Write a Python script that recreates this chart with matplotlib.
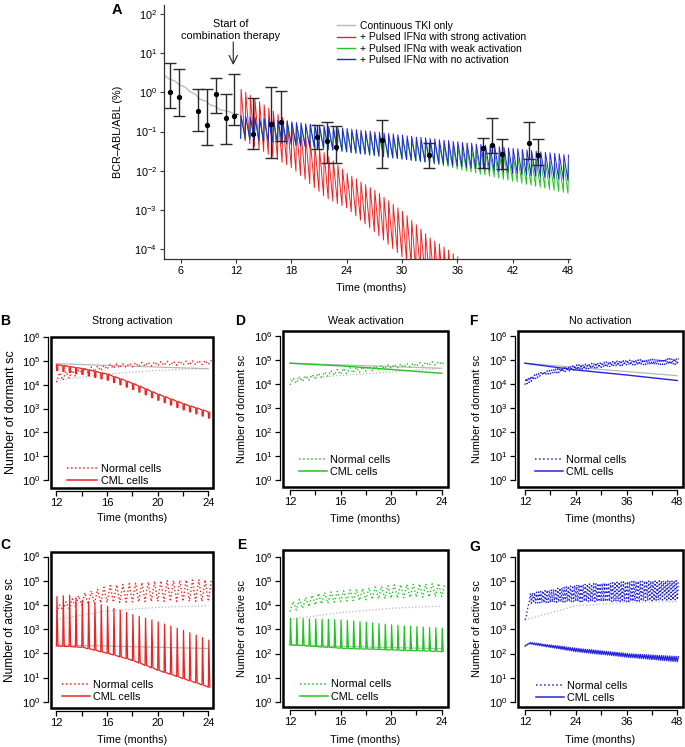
import numpy as np
import matplotlib
matplotlib.use('Agg')
import matplotlib.pyplot as plt
from matplotlib.patches import Rectangle
from matplotlib.lines import Line2D
from matplotlib.ticker import NullLocator

plt.rcParams['font.family'] = ['Liberation Sans', 'DejaVu Sans']
plt.rcParams['mathtext.fontset'] = 'custom'
plt.rcParams['mathtext.rm'] = 'Liberation Sans'
plt.rcParams['mathtext.it'] = 'Liberation Sans:italic'
plt.rcParams['mathtext.bf'] = 'Liberation Sans:bold'

RED = '#ee2222'; GREEN = '#22c422'; BLUE = '#2424dd'; GRAY = '#b8b8b8'; DARK = '#222222'

# ======================= Panel A data (log10 of %) =======================
tki_t = [4.2, 4.8, 5.3, 5.9, 6.5, 7.0, 7.6, 8.1, 8.7, 9.2, 9.8, 10.3, 10.8, 11.35, 12.0]
tki_log = [0.44, 0.33, 0.30, 0.19, 0.13, 0.02, -0.05, -0.18, -0.22, -0.32, -0.36, -0.45, -0.47, -0.50, -0.58]
pre_t = [12.0, 12.5]
pre_log = [-0.55, -0.60]

pt_month = [4.84, 5.85, 7.9, 8.8, 9.8, 10.9, 11.8, 13.8, 15.8, 16.85, 20.8, 21.85, 22.85, 27.8, 32.9,
            38.8, 39.8, 40.8, 43.8, 44.8]
pt_val = [1.00, 0.78, 0.34, 0.15, 0.91, 0.22, 0.25, 0.087, 0.16, 0.18, 0.074, 0.058, 0.041, 0.060, 0.025,
          0.039, 0.046, 0.026, 0.052, 0.025]
pt_hi = [5.5, 3.9, 1.2, 1.2, 2.3, 0.93, 2.9, 0.71, 1.4, 1.1, 0.15, 0.18, 0.14, 0.20, 0.052,
         0.069, 0.22, 0.063, 0.18, 0.065]
pt_lo = [0.39, 0.25, 0.105, 0.046, 0.30, 0.048, 0.15, 0.035, 0.021, 0.056, 0.036, 0.0155, 0.016, 0.0115, 0.0115,
         0.012, 0.028, 0.011, 0.0195, 0.014]

# per-pulse peaks / troughs (one value per IFN pulse, every half month from 12.5)
A_red_pk = [0.08, 0.00, -0.08, -0.16, -0.24, -0.32, -0.40, -0.48, -0.56, -0.64, -0.72, -0.80,
            -0.89, -1.00, -1.11, -1.22, -1.32, -1.43, -1.54, -1.64, -1.75, -1.86, -1.96, -2.07,
            -2.14, -2.21, -2.29, -2.36, -2.43, -2.50, -2.58, -2.68, -2.77, -2.86, -2.95, -3.04,
            -3.15, -3.27, -3.38, -3.49, -3.61, -3.72, -3.80, -3.87, -3.95, -4.03, -4.12, -4.20]
A_red_tr = [-1.17, -1.24, -1.31, -1.38, -1.44, -1.51, -1.58, -1.65, -1.72, -1.79, -1.85, -1.92,
            -2.01, -2.12, -2.22, -2.33, -2.43, -2.53, -2.64, -2.72, -2.78, -2.84, -2.89, -2.95,
            -3.05, -3.15, -3.26, -3.36, -3.46, -3.56, -3.66, -3.77, -3.88, -3.99, -4.09, -4.20,
            -4.30, -4.40, -4.50, -4.60, -4.70, -4.80, -4.90, -5.00, -5.10, -5.20, -5.30, -5.40]
A_blue_pk = [-0.60, -0.61, -0.63, -0.64, -0.66, -0.67, -0.68, -0.70, -0.71, -0.73, -0.74, -0.75,
             -0.77, -0.78, -0.80, -0.81, -0.83, -0.84, -0.85, -0.87, -0.88, -0.90, -0.91, -0.92,
             -0.94, -0.95, -0.97, -0.98, -0.99, -1.01, -1.02, -1.04, -1.05, -1.06, -1.08, -1.09,
             -1.11, -1.12, -1.14, -1.15, -1.16, -1.18, -1.19, -1.21, -1.22, -1.23, -1.25, -1.26,
             -1.28, -1.29, -1.30, -1.32, -1.33, -1.35, -1.36, -1.37, -1.39, -1.40, -1.42, -1.43,
             -1.44, -1.46, -1.47, -1.49, -1.50, -1.52, -1.53, -1.54, -1.56, -1.57, -1.59, -1.60]
A_blue_tr = [-1.17, -1.19, -1.20, -1.22, -1.23, -1.25, -1.26, -1.28, -1.29, -1.31, -1.32, -1.34,
             -1.35, -1.37, -1.38, -1.40, -1.41, -1.43, -1.44, -1.46, -1.47, -1.49, -1.50, -1.52,
             -1.54, -1.55, -1.57, -1.58, -1.60, -1.61, -1.63, -1.64, -1.66, -1.67, -1.69, -1.70,
             -1.72, -1.73, -1.75, -1.76, -1.78, -1.79, -1.81, -1.82, -1.84, -1.85, -1.87, -1.88,
             -1.90, -1.92, -1.93, -1.95, -1.96, -1.98, -1.99, -2.01, -2.02, -2.04, -2.05, -2.07,
             -2.08, -2.10, -2.11, -2.13, -2.14, -2.16, -2.17, -2.19, -2.20, -2.22, -2.23, -2.25]
A_green_pk = [-0.62, -0.64, -0.65, -0.67, -0.69, -0.70, -0.72, -0.74, -0.75, -0.77, -0.79, -0.80,
              -0.82, -0.84, -0.85, -0.87, -0.89, -0.90, -0.92, -0.94, -0.95, -0.97, -0.98, -1.00,
              -1.02, -1.03, -1.05, -1.07, -1.08, -1.10, -1.12, -1.13, -1.15, -1.17, -1.18, -1.20,
              -1.22, -1.23, -1.25, -1.27, -1.28, -1.30, -1.32, -1.34, -1.35, -1.37, -1.39, -1.41,
              -1.43, -1.45, -1.47, -1.48, -1.50, -1.52, -1.54, -1.56, -1.58, -1.59, -1.61, -1.63,
              -1.65, -1.67, -1.69, -1.70, -1.72, -1.74, -1.76, -1.78, -1.80, -1.81, -1.83, -1.85]
A_green_tr = [-1.17, -1.19, -1.20, -1.22, -1.23, -1.25, -1.26, -1.28, -1.29, -1.31, -1.32, -1.34,
              -1.35, -1.37, -1.39, -1.40, -1.42, -1.43, -1.45, -1.46, -1.48, -1.49, -1.51, -1.52,
              -1.54, -1.55, -1.57, -1.58, -1.60, -1.62, -1.63, -1.65, -1.66, -1.68, -1.69, -1.71,
              -1.72, -1.74, -1.75, -1.77, -1.78, -1.80, -1.83, -1.85, -1.88, -1.90, -1.93, -1.96,
              -1.98, -2.01, -2.03, -2.06, -2.09, -2.11, -2.14, -2.16, -2.19, -2.22, -2.24, -2.27,
              -2.29, -2.32, -2.35, -2.37, -2.40, -2.42, -2.45, -2.48, -2.50, -2.53, -2.55, -2.58]

# ======================= Panels B-G data (log10 of cell numbers) =======================
# steady TKI-only references (gray)
B_gs_t = [12, 24]; B_gs = [4.88, 4.67]
B_gd_t = [12, 16, 20, 24]; B_gd = [4.18, 4.45, 4.60, 4.68]
C_gs_t = [12, 24]; C_gs = [2.35, 2.20]
C_gd_t = [12, 16, 20, 24]; C_gd = [3.40, 3.75, 3.90, 3.97]
D_gs_t = [12, 24]; D_gs = [4.86, 4.65]
D_gd_t = [12, 24]; D_gd = [4.20, 4.65]
E_gs_t = [12, 24]; E_gs = [2.35, 2.20]
E_gd_t = [12, 16, 20, 24]; E_gd = [3.42, 3.70, 3.88, 3.97]
F_gs_t = [12, 48]; F_gs = [4.86, 4.34]
G_gd_t = [12, 24, 36, 48]; G_gd = [3.40, 3.98, 4.12, 4.16]
D_cml_t = [12, 16, 20, 24]; D_cml = [4.86, 4.75, 4.60, 4.44]
F_cml_t = [12, 24, 36, 48]; F_cml = [4.86, 4.58, 4.37, 4.14]

# per-pulse values (every half month from month 12)
B_cml_top = [4.84, 4.80, 4.76, 4.72, 4.68, 4.62, 4.56, 4.50, 4.44, 4.34, 4.25, 4.15, 4.05,
             3.94, 3.83, 3.71, 3.60, 3.50, 3.40, 3.30, 3.20, 3.11, 3.03, 2.94, 2.85]
B_cml_bot = [4.59, 4.55, 4.51, 4.47, 4.43, 4.37, 4.31, 4.25, 4.19, 4.09, 4.00, 3.90, 3.80,
             3.69, 3.58, 3.46, 3.35, 3.25, 3.15, 3.05, 2.95, 2.86, 2.78, 2.69, 2.60]
B_nor_hi = [4.50, 4.55, 4.60, 4.65, 4.70, 4.74, 4.78, 4.81, 4.85, 4.87, 4.88, 4.90, 4.92,
            4.93, 4.94, 4.96, 4.97, 4.98, 4.98, 4.99, 4.99, 5.00, 5.01, 5.01, 5.02]
B_nor_lo = [4.10, 4.19, 4.28, 4.36, 4.45, 4.50, 4.55, 4.60, 4.65, 4.68, 4.70, 4.73, 4.75,
            4.76, 4.78, 4.79, 4.80, 4.81, 4.81, 4.82, 4.83, 4.83, 4.84, 4.84, 4.85]
C_cml_pk = [4.35, 4.38, 4.40, 4.30, 4.20, 4.14, 4.08, 4.01, 3.95, 3.86, 3.78, 3.69, 3.60,
            3.53, 3.45, 3.38, 3.30, 3.21, 3.13, 3.04, 2.95, 2.85, 2.75, 2.65, 2.55]
C_cml_tr = [2.30, 2.29, 2.28, 2.26, 2.25, 2.19, 2.13, 2.06, 2.00, 1.93, 1.85, 1.78, 1.70,
            1.60, 1.50, 1.40, 1.30, 1.21, 1.13, 1.04, 0.95, 0.86, 0.78, 0.69, 0.60]
C_nor_hi = [4.00, 4.13, 4.25, 4.38, 4.50, 4.58, 4.65, 4.73, 4.80, 4.83, 4.85, 4.88, 4.90,
            4.93, 4.95, 4.98, 5.00, 5.01, 5.01, 5.02, 5.03, 5.03, 5.04, 5.04, 5.05]
C_nor_lo = [3.70, 3.78, 3.85, 3.93, 4.00, 4.03, 4.05, 4.08, 4.10, 4.11, 4.11, 4.12, 4.13,
            4.13, 4.14, 4.14, 4.15, 4.15, 4.15, 4.15, 4.15, 4.15, 4.15, 4.15, 4.15]
D_nor_hi = [4.23, 4.28, 4.34, 4.39, 4.44, 4.49, 4.55, 4.60, 4.65, 4.67, 4.69, 4.71, 4.73,
            4.75, 4.77, 4.79, 4.81, 4.83, 4.85, 4.86, 4.88, 4.90, 4.92, 4.93, 4.95]
D_nor_lo = [3.96, 4.03, 4.10, 4.16, 4.23, 4.27, 4.32, 4.36, 4.40, 4.43, 4.46, 4.49, 4.53,
            4.56, 4.59, 4.62, 4.65, 4.67, 4.69, 4.71, 4.73, 4.75, 4.77, 4.79, 4.81]
E_cml_pk = [3.47, 3.46, 3.45, 3.44, 3.44, 3.43, 3.42, 3.41, 3.40, 3.37, 3.35, 3.32, 3.30,
            3.27, 3.24, 3.22, 3.19, 3.17, 3.15, 3.14, 3.12, 3.10, 3.08, 3.07, 3.05]
E_cml_tr = [2.36, 2.34, 2.33, 2.31, 2.29, 2.27, 2.26, 2.24, 2.22, 2.21, 2.20, 2.19, 2.19,
            2.18, 2.17, 2.16, 2.15, 2.14, 2.13, 2.12, 2.12, 2.11, 2.10, 2.09, 2.08]
E_nor_hi = [4.16, 4.25, 4.33, 4.42, 4.50, 4.53, 4.56, 4.58, 4.61, 4.64, 4.67, 4.70, 4.73,
            4.76, 4.79, 4.82, 4.85, 4.86, 4.87, 4.88, 4.89, 4.89, 4.90, 4.91, 4.92]
E_nor_lo = [3.74, 3.81, 3.88, 3.95, 4.02, 4.06, 4.09, 4.13, 4.16, 4.18, 4.20, 4.21, 4.23,
            4.25, 4.27, 4.28, 4.30, 4.31, 4.32, 4.33, 4.34, 4.34, 4.35, 4.36, 4.37]
F_nor_hi = [4.23, 4.26, 4.30, 4.33, 4.37, 4.40, 4.43, 4.47, 4.50, 4.52, 4.54, 4.55, 4.57,
            4.59, 4.61, 4.63, 4.65, 4.66, 4.68, 4.70, 4.72, 4.74, 4.75, 4.77, 4.79,
            4.80, 4.81, 4.81, 4.82, 4.83, 4.84, 4.85, 4.86, 4.87, 4.87, 4.88, 4.89,
            4.90, 4.91, 4.92, 4.92, 4.93, 4.94, 4.95, 4.96, 4.97, 4.97, 4.98, 4.99,
            4.99, 4.99, 5.00, 5.00, 5.00, 5.01, 5.01, 5.01, 5.02, 5.02, 5.02, 5.03,
            5.03, 5.03, 5.04, 5.04, 5.04, 5.05, 5.05, 5.05, 5.05, 5.06, 5.06, 5.06]
F_nor_lo = [3.96, 4.01, 4.06, 4.11, 4.16, 4.22, 4.27, 4.32, 4.37, 4.38, 4.40, 4.41, 4.42,
            4.44, 4.45, 4.46, 4.47, 4.49, 4.50, 4.51, 4.53, 4.54, 4.55, 4.57, 4.58,
            4.59, 4.60, 4.61, 4.62, 4.62, 4.63, 4.64, 4.65, 4.66, 4.67, 4.68, 4.69,
            4.69, 4.70, 4.71, 4.72, 4.73, 4.74, 4.75, 4.76, 4.76, 4.77, 4.78, 4.79,
            4.79, 4.79, 4.79, 4.79, 4.79, 4.80, 4.80, 4.80, 4.80, 4.80, 4.80, 4.80,
            4.80, 4.80, 4.80, 4.81, 4.81, 4.81, 4.81, 4.81, 4.81, 4.81, 4.81, 4.81]
G_nor_hi = [3.50, 4.00, 4.50, 4.52, 4.53, 4.55, 4.56, 4.58, 4.60, 4.61, 4.63, 4.64, 4.66,
            4.67, 4.69, 4.71, 4.72, 4.74, 4.75, 4.77, 4.79, 4.80, 4.82, 4.83, 4.85,
            4.86, 4.86, 4.87, 4.87, 4.88, 4.89, 4.89, 4.90, 4.90, 4.91, 4.91, 4.92,
            4.93, 4.93, 4.94, 4.94, 4.95, 4.96, 4.96, 4.97, 4.97, 4.98, 4.98, 4.99,
            4.99, 4.99, 5.00, 5.00, 5.00, 5.00, 5.00, 5.01, 5.01, 5.01, 5.01, 5.01,
            5.01, 5.02, 5.02, 5.02, 5.02, 5.02, 5.02, 5.03, 5.03, 5.03, 5.03, 5.03]
G_nor_lo = [3.40, 3.75, 4.09, 4.09, 4.10, 4.10, 4.10, 4.11, 4.11, 4.11, 4.12, 4.12, 4.12,
            4.13, 4.13, 4.13, 4.14, 4.14, 4.14, 4.15, 4.15, 4.15, 4.15, 4.16, 4.16,
            4.16, 4.16, 4.16, 4.16, 4.16, 4.16, 4.16, 4.16, 4.16, 4.16, 4.16, 4.16,
            4.16, 4.16, 4.16, 4.16, 4.16, 4.16, 4.16, 4.16, 4.16, 4.16, 4.16, 4.16,
            4.16, 4.17, 4.17, 4.17, 4.18, 4.18, 4.18, 4.19, 4.19, 4.19, 4.20, 4.20,
            4.20, 4.21, 4.21, 4.21, 4.22, 4.22, 4.22, 4.22, 4.23, 4.23, 4.23, 4.23]
G_cml_hi = [2.36, 2.41, 2.46, 2.45, 2.44, 2.43, 2.42, 2.41, 2.39, 2.38, 2.37, 2.36, 2.35,
            2.34, 2.33, 2.32, 2.31, 2.30, 2.29, 2.27, 2.26, 2.25, 2.24, 2.23, 2.22,
            2.21, 2.20, 2.19, 2.18, 2.17, 2.17, 2.16, 2.15, 2.14, 2.13, 2.12, 2.11,
            2.10, 2.09, 2.08, 2.07, 2.06, 2.06, 2.05, 2.04, 2.03, 2.02, 2.01, 2.00,
            1.99, 1.99, 1.98, 1.98, 1.97, 1.97, 1.96, 1.96, 1.95, 1.95, 1.94, 1.94,
            1.93, 1.93, 1.92, 1.92, 1.91, 1.91, 1.90, 1.90, 1.89, 1.89, 1.88, 1.87]
G_cml_lo = [2.30, 2.35, 2.40, 2.39, 2.37, 2.36, 2.34, 2.33, 2.31, 2.30, 2.28, 2.27, 2.25,
            2.24, 2.23, 2.21, 2.20, 2.18, 2.17, 2.15, 2.14, 2.12, 2.11, 2.09, 2.08,
            2.07, 2.06, 2.05, 2.04, 2.03, 2.02, 2.01, 2.00, 1.99, 1.98, 1.97, 1.96,
            1.96, 1.95, 1.94, 1.93, 1.92, 1.91, 1.90, 1.89, 1.88, 1.87, 1.86, 1.85,
            1.84, 1.83, 1.83, 1.82, 1.81, 1.80, 1.79, 1.79, 1.78, 1.77, 1.76, 1.75,
            1.75, 1.74, 1.73, 1.72, 1.71, 1.71, 1.70, 1.69, 1.68, 1.67, 1.67, 1.66]

PERIOD = 0.5          # months between IFN pulses
A_START = 12.5        # first pulse in panel A
SC_START = 12.0       # first pulse in panels B-G
arrow_month = 11.7

W, H = 685, 747
fig = plt.figure(figsize=(W / 100, H / 100), dpi=100)


def rect(l, t, r, b):
    return [l / W, 1 - b / H, (r - l) / W, (b - t) / H]


def wave(t0, hi, lo, shape):
    xs, ys = [], []
    for k in range(min(len(hi), len(lo))):
        t = t0 + k * PERIOD
        for ph, w in shape:
            xs.append(t + ph * PERIOD)
            ys.append(10 ** (hi[k] if w == 'h' else lo[k]))
    return xs, ys


SAW = [(0, 'l'), (0.1, 'h')]
SPIKE = [(0, 'l'), (0.08, 'h'), (0.24, 'l')]
TRI = [(0, 'l'), (0.5, 'h')]
COMB = [(0, 'h'), (0.03, 'l'), (0.2, 'l'), (0.23, 'h')]


def pw(v):
    return r'$\mathregular{10^{%d}}$' % v


# ================= Panel A =================
axA = fig.add_axes(rect(164, 5, 570, 259))
axA.set_yscale('log')
axA.set_xlim(4.19, 48.22)
axA.set_ylim(10 ** -4.255, 10 ** 2.23)
for s in ['top', 'right']:
    axA.spines[s].set_visible(False)
for s in ['left', 'bottom']:
    axA.spines[s].set_linewidth(0.9)
    axA.spines[s].set_color('#333333')
axA.set_yticks([10.0 ** e for e in range(-4, 3)])
axA.set_yticklabels([pw(e) for e in range(-4, 3)])
axA.yaxis.set_minor_locator(NullLocator())
axA.set_xticks(list(range(6, 49, 6)))
axA.tick_params(direction='out', length=3, width=0.8, labelsize=7.8, pad=2, color='#333333')

axA.plot(tki_t, 10 ** np.array(tki_log), color=GRAY, lw=0.9)
x, y = wave(A_START, A_red_pk, A_red_tr, SAW)
axA.plot(x, y, color=RED, lw=0.7)
x, y = wave(A_START, A_green_pk, A_green_tr, SAW)
axA.plot(x, y, color=GREEN, lw=0.7)
x, y = wave(A_START, A_blue_pk, A_blue_tr, SAW)
axA.plot(x, y, color=BLUE, lw=0.7)
axA.plot(pre_t, 10 ** np.array(pre_log), color=BLUE, lw=0.8, ls=(0, (2.5, 1.5)))

pv = np.array(pt_val)
axA.errorbar(pt_month, pv, yerr=[pv - np.array(pt_lo), np.array(pt_hi) - pv], fmt='o', ms=2.8,
             color='black', ecolor='#2a2a2a', elinewidth=1.0, capsize=4.3, capthick=1.0, zorder=6)

axA.set_xlabel('Time (months)', fontsize=7.8)
axA.xaxis.label.set_va('center')
axA.xaxis.set_label_coords(0.51, (259 - 288) / 254)
axA.set_ylabel('BCR\u2013ABL/ABL (%)', fontsize=7.8)
axA.yaxis.label.set_va('center')
axA.yaxis.set_label_coords((118 - 164) / 406, 0.5)

handles = [Line2D([], [], color=c, lw=1.0) for c in [GRAY, RED, GREEN, BLUE]]
labels = ['Continuous TKI only', '+ Pulsed IFN\u03b1 with strong activation',
          '+ Pulsed IFN\u03b1 with weak activation', '+ Pulsed IFN\u03b1 with no activation']
axA.legend(handles, labels, loc='upper left', bbox_to_anchor=((336.7 - 164) / 406, (259 - 21) / 254),
           frameon=False, fontsize=7.5, handlelength=1.75, handletextpad=0.45, labelspacing=0.12,
           borderpad=0, borderaxespad=0)

fig.text(231 / W, 1 - 30 / H, 'Start of\ncombination therapy', ha='center', va='center', fontsize=7.8,
         linespacing=1.2)
axA.annotate('', xy=(arrow_month, (259 - 65) / 254), xycoords=('data', 'axes fraction'),
             xytext=(arrow_month, (259 - 42) / 254), textcoords=('data', 'axes fraction'),
             arrowprops=dict(arrowstyle='->,head_length=0.6,head_width=0.3', lw=0.8, color=DARK,
                             shrinkA=0, shrinkB=0))
fig.text(117 / W, 1 - 10 / H, 'A', fontsize=10.5, fontweight='bold', ha='center', va='center')


# ================= small panels =================
def small(l, t, r, b, xlim, ylog, xt, xlab, ylabel, fs_y, ylab_x, xlab_y):
    ax = fig.add_axes(rect(l, t, r, b))
    ax.set_yscale('log')
    ax.set_xlim(*xlim)
    ax.set_ylim(10 ** ylog[0], 10 ** ylog[1])
    for s in ['top', 'right']:
        ax.spines[s].set_visible(False)
    for s in ['left', 'bottom']:
        ax.spines[s].set_position(('outward', 2.5))
        ax.spines[s].set_linewidth(0.9)
    ax.spines['left'].set_bounds(1, 1e6)
    ax.spines['bottom'].set_bounds(xt[0], xt[-1])
    ax.add_patch(Rectangle((0, 0), 1, 1, transform=ax.transAxes, fill=False, lw=1.8, ec='black',
                           clip_on=False, zorder=10))
    ax.set_yticks([10.0 ** e for e in range(0, 7)])
    ax.set_yticklabels([pw(e) for e in range(0, 7)])
    ax.yaxis.set_minor_locator(NullLocator())
    ax.set_xticks(xt)
    ax.set_xticklabels([str(v) if v in xlab else '' for v in xt])
    ax.tick_params(direction='out', length=3.5, width=0.9, labelsize=8, pad=1.5)
    ax.set_xlabel('Time (months)', fontsize=7.8)
    ax.xaxis.label.set_va('center')
    ax.xaxis.set_label_coords(0.5, -(xlab_y - b) / (b - t))
    ax.set_ylabel(ylabel, fontsize=fs_y)
    ax.yaxis.label.set_va('center')
    ax.yaxis.set_label_coords((ylab_x - l) / (r - l), 0.5)
    return ax


def leg(ax, color, x0, y0, hl):
    hs = [Line2D([], [], color=color, lw=1.1, ls=':'), Line2D([], [], color=color, lw=1.1)]
    ax.legend(hs, ['Normal cells', 'CML cells'], loc='lower left', bbox_to_anchor=(x0, y0), frameon=False,
              fontsize=7.8, handlelength=hl, handletextpad=0.3, labelspacing=0.2, borderpad=0,
              borderaxespad=0)


def line(ax, t, v, color, ls='-', lw=0.9):
    ax.plot(t, 10 ** np.array(v), color=color, ls=ls, lw=lw)


xt24 = [12, 14, 16, 18, 20, 22, 24]
xt48 = [12, 18, 24, 30, 36, 42, 48]

# B
axB = small(51, 337, 213, 488, (11.57, 24.37), (-0.33, 6.0), xt24, [12, 16, 20, 24],
            'Number of dormant sc', 9, 11, 518)
line(axB, B_gs_t, B_gs, GRAY); line(axB, B_gd_t, B_gd, GRAY, ':')
x, y = wave(SC_START, B_nor_hi, B_nor_lo, TRI)
axB.plot(x, y, color=RED, ls=':', lw=1.0)
x, y = wave(SC_START, B_cml_top, B_cml_bot, COMB)
axB.plot(x, y, color=RED, lw=0.9)
leg(axB, RED, (67 - 51) / 162, 0.013, 2.8)

# C
axC = small(51, 552, 213, 708, (11.57, 24.37), (-0.26, 6.19), xt24, [12, 16, 20, 24],
            'Number of active sc', 8.5, 10, 740)
line(axC, C_gs_t, C_gs, GRAY); line(axC, C_gd_t, C_gd, GRAY, ':')
x, y = wave(SC_START, C_nor_hi, C_nor_lo, TRI)
axC.plot(x, y, color=RED, ls=':', lw=1.0)
x, y = wave(SC_START, C_cml_pk, C_cml_tr, SPIKE)
axC.plot(x, y, color=RED, lw=0.9)
leg(axC, RED, (62 - 51) / 162, 0.04, 2.6)

# D
axD = small(283, 331, 448, 487, (11.45, 24.5), (-0.29, 6.2), xt24, [12, 16, 20, 24],
            'Number of dormant sc', 7.8, 241.7, 519)
line(axD, D_gs_t, D_gs, GRAY); line(axD, D_gd_t, D_gd, GRAY, ':')
x, y = wave(SC_START, D_nor_hi, D_nor_lo, TRI)
axD.plot(x, y, color=GREEN, ls=':', lw=1.0)
line(axD, D_cml_t, D_cml, GREEN, '-', 1.0)
leg(axD, GREEN, (299 - 283) / 165, 0.064, 2.6)

# E
axE = small(283, 550, 448, 707, (11.45, 24.5), (-0.22, 6.3), xt24, [12, 16, 20, 24],
            'Number of active sc', 7.8, 241.7, 740)
line(axE, E_gs_t, E_gs, GRAY); line(axE, E_gd_t, E_gd, GRAY, ':')
x, y = wave(SC_START, E_nor_hi, E_nor_lo, TRI)
axE.plot(x, y, color=GREEN, ls=':', lw=1.0)
x, y = wave(SC_START, E_cml_pk, E_cml_tr, SPIKE)
axE.plot(x, y, color=GREEN, lw=0.9)
leg(axE, GREEN, (300 - 283) / 165, 0.034, 2.6)

# F
axF = small(518, 331, 683, 487, (10.35, 49.35), (-0.29, 6.2), xt48, [12, 24, 36, 48],
            'Number of dormant sc', 7.8, 476.7, 519)
line(axF, F_gs_t, F_gs, GRAY)
x, y = wave(SC_START, F_nor_hi, F_nor_lo, TRI)
axF.plot(x, y, color=BLUE, ls=':', lw=1.0)
line(axF, F_cml_t, F_cml, BLUE, '-', 1.0)
leg(axF, BLUE, (535 - 518) / 165, 0.066, 2.6)

# G
axG = small(518, 550, 683, 707, (10.35, 49.35), (-0.22, 6.3), xt48, [12, 24, 36, 48],
            'Number of active sc', 7.8, 476.7, 740)
line(axG, G_gd_t, G_gd, GRAY, ':')
x, y = wave(SC_START, G_nor_hi, G_nor_lo, TRI)
axG.plot(x, y, color=BLUE, ls=':', lw=1.0)
x, y = wave(SC_START, G_cml_hi, G_cml_lo, TRI)
axG.plot(x, y, color=BLUE, lw=0.9)
leg(axG, BLUE, (535.7 - 518) / 165, 0.027, 2.6)

for txt, x, y in [('Strong activation', 132, 320.7), ('Weak activation', 365.5, 320.7),
                  ('No activation', 600.5, 320.7)]:
    fig.text(x / W, 1 - y / H, txt, ha='center', va='center', fontsize=7.7)
for txt, x, y in [('B', 5, 321), ('C', 5, 545), ('D', 240, 321), ('E', 242, 545), ('F', 473, 321),
                  ('G', 475, 547)]:
    fig.text(x / W, 1 - y / H, txt, ha='center', va='center', fontsize=10, fontweight='bold')

fig.savefig('out.png', dpi=100)
